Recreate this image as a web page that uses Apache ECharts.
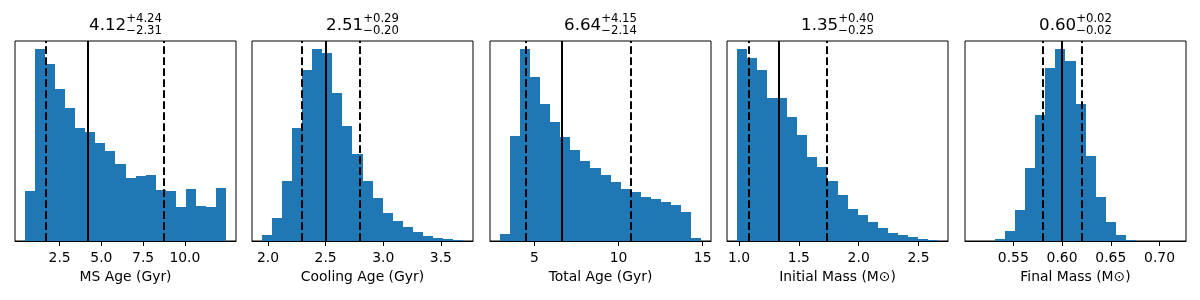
<!DOCTYPE html>
<html><head><meta charset="utf-8">
<script src="https://cdn.jsdelivr.net/npm/echarts@6/dist/echarts.min.js"></script>
<style>html,body{margin:0;padding:0;background:#fff}#c{width:1200px;height:300px}</style>
</head><body><div id="c"></div>
<script>
// ---------- data ----------
const titleValues = ['4.12', '2.51', '6.64', '1.35', '0.60'];
const titlePlus   = ['+4.24', '+0.29', '+4.15', '+0.40', '+0.02'];
const titleMinus  = ['\u22122.31', '\u22120.20', '\u22122.14', '\u22120.25', '\u22120.02'];
const axisNames   = ['MS Age (Gyr)', 'Cooling Age (Gyr)', 'Total Age (Gyr)', 'Initial Mass (M\u2299)', 'Final Mass (M\u2299)'];

const msAgeRange = [0.43, 12.46];
const msAgeCounts = [149,575,530,455,398,338,326,293,269,230,188,194,198,152,149,102,155,105,102,158];
const msAgeLines = [1.67, 4.19, 8.74];
const msAgeTicks = [2.5, 5.0, 7.5, 10.0];
const msAgeTickLabels = ['2.5', '5.0', '7.5', '10.0'];

const coolAgeRange = [1.948, 3.692];
const coolAgeCounts = [17,68,179,338,512,575,565,443,344,260,179,128,84,60,41,26,14,8,5,2];
const coolAgeLines = [2.292, 2.498, 2.799];
const coolAgeTicks = [2.0, 2.5, 3.0, 3.5];
const coolAgeTickLabels = ['2.0', '2.5', '3.0', '3.5'];

const totAgeRange = [2.95, 14.90];
const totAgeCounts = [20,314,575,491,410,356,311,272,239,218,197,176,156,146,131,125,116,107,86,8];
const totAgeLines = [4.46, 6.61, 10.73];
const totAgeTicks = [5, 10, 15];
const totAgeTickLabels = ['5', '10', '15'];

const initMassRange = [0.983, 2.663];
const initMassCounts = [575,548,512,428,428,371,317,251,221,179,137,95,77,56,38,23,17,11,6,2];
const initMassLines = [1.080, 1.329, 1.727];
const initMassTicks = [1.0, 1.5, 2.0, 2.5];
const initMassTickLabels = ['1.0', '1.5', '2.0', '2.5'];

const finMassRange = [0.5108, 0.7168];
const finMassCounts = [0,0,5,30,92,218,377,518,575,539,410,254,131,56,17,3,0,0,0,0];
const finMassLines = [0.5772, 0.5989, 0.6217];
const finMassTicks = [0.55, 0.60, 0.65, 0.70];
const finMassTickLabels = ['0.55', '0.60', '0.65', '0.70'];

const panelRanges = [msAgeRange, coolAgeRange, totAgeRange, initMassRange, finMassRange];
const panelCounts = [msAgeCounts, coolAgeCounts, totAgeCounts, initMassCounts, finMassCounts];
const panelLines  = [msAgeLines, coolAgeLines, totAgeLines, initMassLines, finMassLines];
const panelTicks  = [msAgeTicks, coolAgeTicks, totAgeTicks, initMassTicks, finMassTicks];
const panelTickLabels = [msAgeTickLabels, coolAgeTickLabels, totAgeTickLabels, initMassTickLabels, finMassTickLabels];

// ---------- layout ----------
const gridLefts = [15, 252, 490, 727, 965];
const gridWidth = 221;
const gridTop = 41, gridHeight = 200;
const FONT = "'DejaVu Sans', sans-serif";
const mainSize = 16.7, subSize = 11.7;

const chart = echarts.init(document.getElementById('c'), null, {renderer: 'canvas'});

const ctx = document.createElement('canvas').getContext('2d');
function textWidth(t, size) { ctx.font = size + 'px ' + FONT; return ctx.measureText(t).width; }

function renderBar(params, api) {
  const p0 = api.coord([api.value(0), api.value(2)]);
  const p1 = api.coord([api.value(1), 0]);
  const x0 = Math.round(p0[0]), x1 = Math.round(p1[0]);
  const y0 = Math.round(p0[1]), y1 = Math.round(p1[1]);
  return {
    type: 'rect',
    shape: { x: x0, y: y0, width: x1 - x0, height: y1 - y0 },
    style: { fill: '#1f77b4', stroke: null, lineWidth: 0 }
  };
}

const grids = [], xAxes = [], yAxes = [], series = [], graphics = [];
for (let k = 0; k < 5; k++) {
  const [lo, hi] = panelRanges[k];
  const n = panelCounts[k].length;
  const w = (hi - lo) / n;
  const pad = 0.05 * (hi - lo);
  grids.push({ left: gridLefts[k], top: gridTop, width: gridWidth, height: gridHeight,
    show: true, borderColor: '#000', borderWidth: 1, backgroundColor: 'transparent', containLabel: false });
  const labels = panelTickLabels[k], ticks = panelTicks[k];
  xAxes.push({
    type: 'value', gridIndex: k, min: lo - pad, max: hi + pad,
    name: axisNames[k], nameLocation: 'middle', nameGap: 29,
    nameTextStyle: { fontFamily: FONT, fontSize: 13.9, color: '#000' },
    axisLine: { show: true, onZero: false, lineStyle: { color: '#000', width: 1 } },
    axisTick: { show: true, length: 5, lineStyle: { color: '#000', width: 1 }, customValues: ticks },
    axisLabel: { show: true, margin: 10, fontFamily: FONT, fontSize: 13.9, color: '#000',
      customValues: ticks,
      formatter: function (v) {
        for (let i = 0; i < ticks.length; i++) if (Math.abs(ticks[i] - v) < 1e-9) return labels[i];
        return '';
      } },
    splitLine: { show: false }
  });
  yAxes.push({ type: 'value', gridIndex: k, min: 0, max: 600, show: false, splitLine: { show: false } });
  const data = panelCounts[k].map((c, i) => [lo + i * w, lo + (i + 1) * w, c]);
  const lines = panelLines[k];
  series.push({
    type: 'custom', xAxisIndex: k, yAxisIndex: k, renderItem: renderBar, data: data,
    encode: { x: [0, 1], y: 2 }, silent: true, animation: false,
    markLine: {
      symbol: 'none', silent: true, animation: false, label: { show: false },
      lineStyle: { color: '#000', width: 2 },
      data: [
        { xAxis: lines[0], lineStyle: { type: [7.7, 3.3], color: '#000', width: 2 } },
        { xAxis: lines[1], lineStyle: { type: 'solid', color: '#000', width: 2 } },
        { xAxis: lines[2], lineStyle: { type: [7.7, 3.3], color: '#000', width: 2 } }
      ]
    }
  });
  // title: value with stacked super/subscript
  const wMain = textWidth(titleValues[k], mainSize);
  const wSub = Math.max(textWidth(titlePlus[k], subSize), textWidth(titleMinus[k], subSize));
  const cx = gridLefts[k] + gridWidth / 2;
  const x0 = cx - (wMain + wSub) / 2;
  graphics.push({ type: 'text', x: x0, y: 30.7 - 0.297 * mainSize,
    style: { text: titleValues[k], font: mainSize + 'px ' + FONT, fill: '#000', align: 'left', verticalAlign: 'middle' } });
  graphics.push({ type: 'text', x: x0 + wMain, y: 22.7 - 0.297 * subSize,
    style: { text: titlePlus[k], font: subSize + 'px ' + FONT, fill: '#000', align: 'left', verticalAlign: 'middle' } });
  graphics.push({ type: 'text', x: x0 + wMain, y: 34.3 - 0.297 * subSize,
    style: { text: titleMinus[k], font: subSize + 'px ' + FONT, fill: '#000', align: 'left', verticalAlign: 'middle' } });
}

chart.setOption({
  animation: false,
  backgroundColor: '#fff',
  grid: grids, xAxis: xAxes, yAxis: yAxes, series: series,
  graphic: { elements: graphics }
});
</script>
</body></html>
